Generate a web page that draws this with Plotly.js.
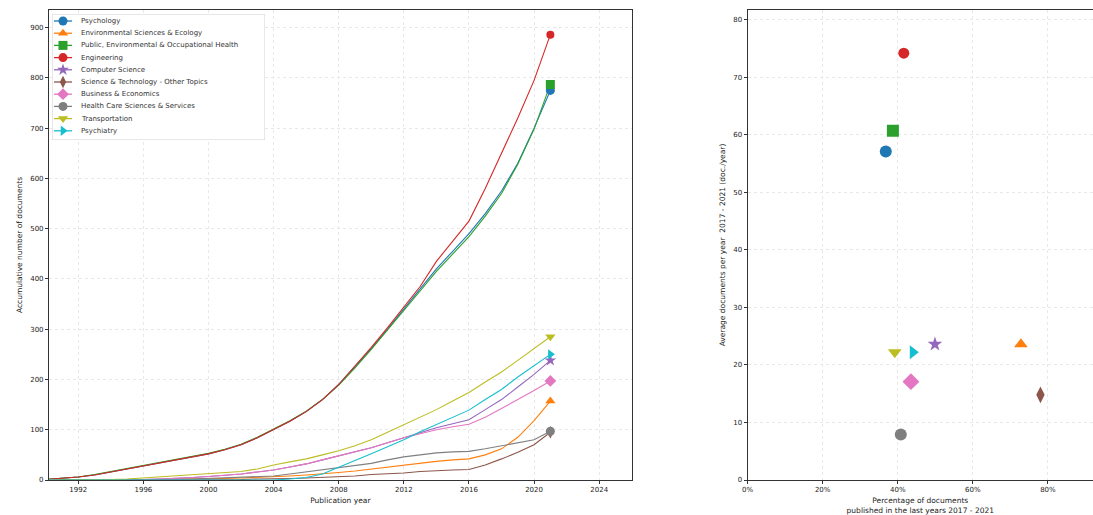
<!DOCTYPE html>
<html>
<head>
<meta charset="utf-8">
<script src="https://cdn.plot.ly/plotly-3.0.1.min.js"></script>
<style>html,body{margin:0;padding:0;background:#fff;}#chart{width:1093px;height:515px;}</style>
</head>
<body>
<div id="chart"></div>
<script>
const years = [];
for (let y = 1990; y <= 2021; y++) years.push(y);

const categories = ["Psychology","Environmental Sciences & Ecology","Public, Environmental & Occupational Health","Engineering","Computer Science","Science & Technology - Other Topics","Business & Economics","Health Care Sciences & Services","Transportation","Psychiatry"];

const psychology   = [1,3,6,10,16,21,27,33,39,45,52,60,70,84,100,117,136,160,190,225,262,300,340,380,420,455,490,530,575,630,700,775];
const environmental= [0,0,0,0,0,0,1,1,2,2,3,3,4,5,7,8,10,12,15,18,22,26,30,34,37,40,42,50,62,85,118,157];
const publicHealth = [1,3,6,11,17,22,28,34,40,46,53,61,71,85,101,118,137,160,189,223,260,298,337,376,415,450,484,525,570,628,698,787];
const engineering  = [1,3,6,10,16,21,27,33,39,45,52,60,70,84,100,117,136,160,190,226,264,303,345,385,435,475,515,580,650,720,795,886];
const computerSci  = [0,0,0,0,0,0,1,2,3,5,7,9,12,16,20,26,32,40,48,56,64,74,84,94,104,112,120,140,160,185,210,238];
const sciTech      = [0,0,0,0,0,0,0,0,0,0,0,1,1,2,2,3,4,5,6,8,11,12,14,17,19,20,21,30,42,55,70,95];
const business     = [0,0,0,0,0,0,1,2,3,5,7,9,12,16,20,26,32,40,48,56,64,74,84,92,100,106,111,125,142,160,178,197];
const healthCare   = [0,0,0,0,0,0,0,0,1,2,3,4,5,6,8,12,16,20,24,28,33,40,46,50,54,56,57,62,68,74,80,97];
const transport    = [0,0,0,0,1,2,4,6,8,10,12,14,17,22,30,36,42,50,58,68,80,95,110,125,140,157,174,195,215,238,262,285];
const psychiatry   = [0,0,0,0,0,0,0,0,0,0,0,0,0,0,0,2,5,12,25,38,52,66,80,96,110,125,139,160,180,205,228,250];

const series = [psychology, environmental, publicHealth, engineering, computerSci, sciTech, business, healthCare, transport, psychiatry];

// right panel: share of documents published 2017-2021, average documents per year 2017-2021
const shareRecent = [0.368,0.728,0.387,0.416,0.499,0.780,0.435,0.408,0.392,0.440];
const avgPerYear  = [57.1,23.6,60.7,74.2,23.6,14.8,17.1,7.9,22.2,22.2];

const xTickVals = [1992,1996,2000,2004,2008,2012,2016,2020,2024];
const yTickVals = [0,100,200,300,400,500,600,700,800,900];
const rxTickVals = [0,0.2,0.4,0.6,0.8];
const ryTickVals = [0,10,20,30,40,50,60,70,80];

const colors = ['#1f77b4','#ff7f0e','#2ca02c','#d62728','#9467bd','#8c564b','#e377c2','#7f7f7f','#bcbd22','#17becf'];
const symbols = ['circle','triangle-up','square','circle','star','diamond-tall','diamond','circle','triangle-down','triangle-right'];
const endSizes = [9,9,9,8,9,9,9,9,9,9];
const rightSizes = [12,12,12,11,11,12,13,12,12,12];

const traces = [];
series.forEach((vals, i) => {
  traces.push({x: years, y: vals, type: 'scatter', mode: 'lines', line: {color: colors[i], width: 1.1},
    showlegend: false, hoverinfo: 'skip', xaxis: 'x', yaxis: 'y'});
});
series.forEach((vals, i) => {
  traces.push({x: [years[years.length-1]], y: [vals[vals.length-1]], type: 'scatter', mode: 'markers',
    name: categories[i], marker: {color: colors[i], symbol: symbols[i], size: endSizes[i]},
    showlegend: false, xaxis: 'x', yaxis: 'y'});
});
categories.forEach((c, i) => {
  traces.push({x: [shareRecent[i]], y: [avgPerYear[i]], type: 'scatter', mode: 'markers', name: c,
    marker: {color: colors[i], symbol: symbols[i], size: rightSizes[i]}, showlegend: false, xaxis: 'x2', yaxis: 'y2'});
});

// compact legend (matplotlib style) on its own overlay axes
const legRowH = 12.2, legTop = 7, legMarkX = 11, legTextX = 27;
const shapes = [{type: 'rect', xref: 'x3', yref: 'y3', x0: 0, x1: 213, y0: 0, y1: 126, layer: 'between',
  fillcolor: 'rgba(255,255,255,0.95)', line: {color: '#d0d0d0', width: 1}}];
const annotations = [];
categories.forEach((c, i) => {
  const yy = legTop + legRowH * i;
  shapes.push({type: 'line', xref: 'x3', yref: 'y3', x0: 2, x1: 20, y0: yy, y1: yy, layer: 'between',
    line: {color: colors[i], width: 1.3}});
  traces.push({x: [legMarkX], y: [yy], type: 'scatter', mode: 'markers', showlegend: false, hoverinfo: 'skip',
    marker: {color: colors[i], symbol: symbols[i], size: 9}, xaxis: 'x3', yaxis: 'y3'});
  annotations.push({xref: 'x3', yref: 'y3', x: legTextX, y: yy, text: c, showarrow: false, xanchor: 'left',
    yanchor: 'middle', font: {family: 'DejaVu Sans', size: 7, color: '#333'}});
});

const tickFont = {family: 'DejaVu Sans', size: 7, color: '#222'};
const titleFont = {family: 'DejaVu Sans', size: 7.5, color: '#222'};
const axisCommon = {showline: true, mirror: true, linecolor: '#333', linewidth: 1, ticks: 'outside', ticklen: 3,
  tickcolor: '#333', tickfont: tickFont, showgrid: true, gridcolor: '#e8e8e8', griddash: 'dot', gridwidth: 1, zeroline: false};
const hiddenAxis = {showline: false, showgrid: false, zeroline: false, showticklabels: false, ticks: '', fixedrange: true};

const layout = {
  width: 1093, height: 515,
  margin: {l: 0, r: 0, t: 10, b: 35},
  paper_bgcolor: '#fff', plot_bgcolor: '#fff',
  font: {family: 'DejaVu Sans', size: 7, color: '#222'},
  showlegend: false,
  xaxis: Object.assign({}, axisCommon, {domain: [0.0448, 0.578], range: [1990.2, 2026], tickvals: xTickVals,
    ticktext: xTickVals.map(String), title: {text: 'Publication year', font: titleFont, standoff: 4}}),
  yaxis: Object.assign({}, axisCommon, {range: [0, 935], tickvals: yTickVals, ticktext: yTickVals.map(String),
    title: {text: 'Accumulative number of documents', font: titleFont, standoff: 6}}),
  xaxis2: Object.assign({}, axisCommon, {domain: [0.684, 1.0], range: [0, 0.92], tickvals: rxTickVals,
    tickformat: '.0%', anchor: 'y2',
    title: {text: 'Percentage of documents<br>published in the last years 2017 - 2021', font: titleFont, standoff: 4}}),
  yaxis2: Object.assign({}, axisCommon, {range: [0, 81.7], tickvals: ryTickVals, anchor: 'x2', mirror: false,
    title: {text: 'Average documents per year  2017 - 2021 (doc./year)', font: titleFont, standoff: 6}}),
  xaxis3: Object.assign({}, hiddenAxis, {domain: [52/1093, 265/1093], range: [0, 213], anchor: 'y3'}),
  yaxis3: Object.assign({}, hiddenAxis, {domain: [(480-140)/470, (480-14)/470], range: [126, 0], anchor: 'x3'}),
  shapes: shapes,
  annotations: annotations
};

Plotly.newPlot('chart', traces, layout, {displayModeBar: false, staticPlot: true});
</script>
</body>
</html>
